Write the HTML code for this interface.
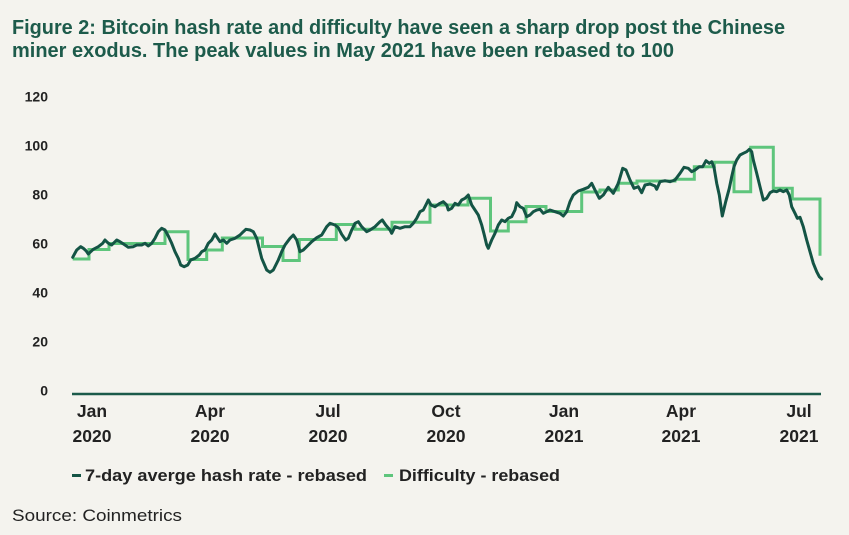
<!DOCTYPE html>
<html><head><meta charset="utf-8"><style>
html,body{margin:0;padding:0;background:#f4f3ee;}
svg{display:block;font-family:"Liberation Sans",sans-serif;}
</style></head><body>
<svg width="849" height="535" viewBox="0 0 849 535" xmlns="http://www.w3.org/2000/svg">
<rect width="849" height="535" fill="#f4f3ee"/>
<g fill="#1d5b4b" font-weight="bold" font-size="20">
<text x="12" y="34" textLength="773" lengthAdjust="spacingAndGlyphs">Figure 2: Bitcoin hash rate and difficulty have seen a sharp drop post the Chinese</text>
<text x="12" y="57" textLength="662" lengthAdjust="spacingAndGlyphs">miner exodus. The peak values in May 2021 have been rebased to 100</text>
</g>
<g fill="#222" font-weight="bold" font-size="14" text-anchor="end">
<text x="48" y="101.5">120</text>
<text x="48" y="150.5">100</text>
<text x="48" y="199.5">80</text>
<text x="48" y="248.5">60</text>
<text x="48" y="297.5">40</text>
<text x="48" y="346.5">20</text>
<text x="48" y="395.5">0</text>
</g>
<line x1="72" y1="394" x2="821" y2="394" stroke="#1b5a4a" stroke-width="2.5"/>
<g fill="#222" font-weight="bold" font-size="17.5" text-anchor="middle">
<text x="92" y="417">Jan</text><text x="92" y="442">2020</text>
<text x="210" y="417">Apr</text><text x="210" y="442">2020</text>
<text x="328" y="417">Jul</text><text x="328" y="442">2020</text>
<text x="446" y="417">Oct</text><text x="446" y="442">2020</text>
<text x="564" y="417">Jan</text><text x="564" y="442">2021</text>
<text x="681" y="417">Apr</text><text x="681" y="442">2021</text>
<text x="799" y="417">Jul</text><text x="799" y="442">2021</text>
</g>
<path fill="none" stroke="#5ec57c" stroke-width="3" stroke-linejoin="miter" d="M72.7,259 H89 V249.5 H109 V243.5 H165 V231.7 H188 V259.5 H206.7 V250 H222.3 V238 H262.5 V246.5 H283 V260.5 H299.3 V239.5 H336.3 V224.5 H355 V229.3 H392 V222.3 H430 V205 H468 V198.3 H490.5 V231 H508.3 V221.7 H526 V206.5 H546 V211.5 H581.7 V192 H600 V190 H618.3 V183.3 H637 V181 H675 V179.3 H694.3 V166.7 H714.3 V162.3 H734 V191.7 H750.7 V147.3 H773.3 V188.3 H792.3 V199 H820 V255.7"/>
<path fill="none" stroke="#145445" stroke-width="3" stroke-linejoin="round" stroke-linecap="round" d="M72.7,257.3 L76.7,250 L80.7,246.7 L83.3,248.3 L86,250.7 L88.3,254 L90.7,251.7 L93.3,249.3 L98.3,246.7 L102.7,243.3 L105,240 L106.7,241.7 L109.3,244 L111.7,245 L116.7,240 L120,241.7 L125,245 L128.3,247.3 L133.3,246.7 L136.7,245 L141.7,245 L145,243.3 L148.3,246 L151.7,243.3 L155,238.3 L158.3,231.7 L161.7,228.3 L165,230 L168.3,236 L171.7,243.3 L175,251.7 L178.3,258.3 L180.7,265 L184,266.7 L187.7,265 L190.7,260 L195,258.3 L199.3,255 L201.7,251.7 L205,250 L208.3,243.3 L211.7,240 L215,234 L216.7,236.7 L220,241.7 L223.3,240 L226.7,243.3 L230,240 L235,238.3 L240,235 L243.3,231.7 L246,229.3 L250,230 L253.3,231.7 L256.7,238.3 L261.7,258.3 L266.7,270 L270,272.3 L273.3,270 L278.3,260 L281.7,251.7 L285,245 L290,238.3 L293.3,235 L296.7,240 L300,251.7 L303.3,250 L306.7,246.7 L311.7,241.7 L316.7,237.7 L321.7,235 L326.7,226.7 L330,223.3 L335,225 L338.3,227.7 L341.7,234.3 L345.7,240 L348.3,238.3 L351.7,230 L355,223.3 L358.3,221.7 L361.7,226.7 L366.7,231.7 L370,230 L375,226.7 L380,221.7 L382.3,220 L385.7,225 L390,230 L391.7,233.3 L395,226.7 L400,228.3 L405,226.7 L410,226.7 L413.3,223.3 L416.7,218.3 L420,211.7 L423.3,210 L426.7,203.3 L428.3,200 L431,205 L435,206.7 L440,203.3 L443.3,201.7 L446.7,205 L448.3,210 L451.7,208.3 L455,203.3 L458.3,205 L461.7,200 L465,198.3 L468.3,195 L471.7,205 L475,210 L478.3,215 L481.7,225 L484.3,235 L486.7,245 L488.3,248.3 L491.7,240 L495,233.3 L498.3,225 L501.7,220 L505,221.7 L508.3,218.3 L511.7,216.7 L515,210 L516.7,202.7 L520,206.7 L523.3,208.3 L526.7,216.7 L530,215 L533.3,211.7 L536.7,210 L540,209.3 L543.3,213.3 L546.7,211.7 L550,210 L555,211.7 L560,213.3 L563.3,216 L566.7,211.7 L570,201.7 L573.3,195 L578.3,191 L583.3,189.3 L588.3,187.3 L591.7,183.3 L595,190 L599.3,198.3 L603.3,195 L608.3,187.3 L613.3,193.3 L618.3,183.3 L622.7,168.3 L626,170 L630,180 L634,188.3 L638.3,186.7 L641.7,192.7 L645,185 L650,184 L655,186 L656.7,189.3 L660,181.7 L665,180.7 L670,181.7 L675,180 L680,173.3 L684,167.3 L688.3,168.3 L691.7,171.7 L695,170 L699.3,166.7 L702.7,166.7 L706,160.7 L709.3,163.3 L711.7,161.7 L714,167.3 L716.7,183.3 L719.3,195 L722.3,216 L725.7,201.7 L729.3,188.3 L731.7,176.7 L734,166.7 L736.7,160 L740,155 L743.3,153.3 L746.7,151.7 L749.3,149.3 L751.7,151.7 L753.3,160 L756.7,173.3 L760,186.7 L763.3,200 L766.7,198.3 L770,192.7 L773.3,191 L776.7,191.7 L780,190 L783.3,191.7 L786.7,190 L789.3,195 L791.7,206.7 L795,213.3 L797.3,218.3 L800,217.3 L803.3,226.7 L806.7,240 L810,251.7 L813.3,263.3 L816.7,271.7 L819.3,276.7 L821.7,279"/>
<line x1="72" y1="475.5" x2="81" y2="475.5" stroke="#145445" stroke-width="3"/>
<line x1="384" y1="475.5" x2="393" y2="475.5" stroke="#5ec57c" stroke-width="3"/>
<g fill="#222" font-weight="bold" font-size="17">
<text x="85" y="481" textLength="282" lengthAdjust="spacingAndGlyphs">7-day averge hash rate - rebased</text>
<text x="399" y="481" textLength="161" lengthAdjust="spacingAndGlyphs">Difficulty - rebased</text>
</g>
<text x="12" y="521" fill="#222" font-size="17" textLength="170" lengthAdjust="spacingAndGlyphs">Source: Coinmetrics</text>
</svg>
</body></html>
